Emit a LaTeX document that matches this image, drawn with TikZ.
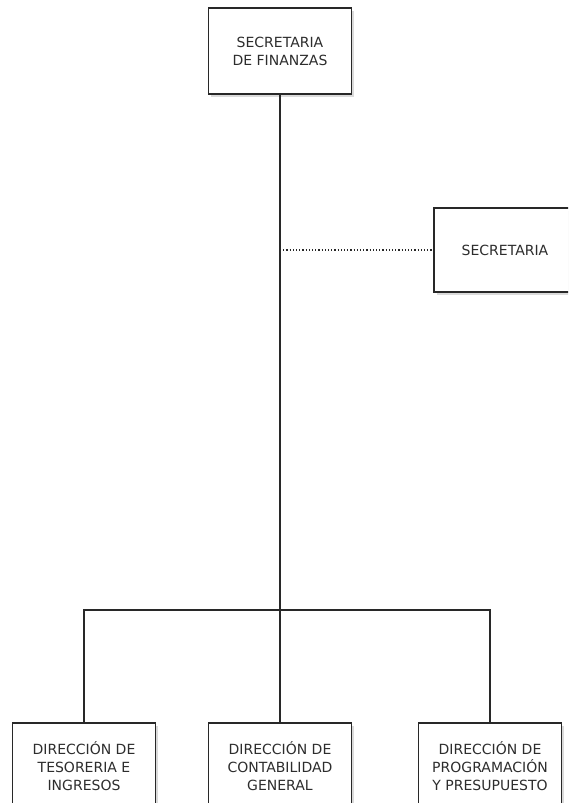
\documentclass[tikz,border=0pt]{standalone}
\usepackage{fontspec}
\setmainfont{DejaVu Sans}
\usetikzlibrary{shadows}
\definecolor{linecolor}{RGB}{40,40,40}
\definecolor{textcolor}{RGB}{45,45,45}
\definecolor{shadowcolor}{RGB}{150,150,150}

\tikzset{
  orgbox/.style={draw=linecolor, fill=white, line width=1.5pt, align=center,
    text=textcolor, font=\fontsize{14}{18}\selectfont,
    minimum width=143pt, minimum height=86pt, inner sep=0pt,
    drop shadow={shadow xshift=2.5pt, shadow yshift=-2.5pt, fill=shadowcolor, opacity=0.35}},
  orgline/.style={draw=linecolor, line width=1.5pt},
  staffline/.style={draw=linecolor, line width=1.2pt, dotted}
}

\begin{document}
\begin{tikzpicture}[x=1pt, y=-1pt]

% 1. CANVAS
\clip (0,0) rectangle (568,803);
\fill[white] (0,0) rectangle (568,803);

% 2. TOP BOX
\node[orgbox] (finanzas) at (280,51) {SECRETARIA\\DE FINANZAS};

% Staff unit (right)
\node[orgbox, minimum width=142pt, minimum height=84pt] (secretaria) at (505,250) {SECRETARIA};

% 3. DIRECTORATES (bottom row)
\node[orgbox] (tesoreria) at (84,766) {DIRECCIÓN DE\\TESORERIA E\\INGRESOS};
\node[orgbox] (contabilidad) at (280,766) {DIRECCIÓN DE\\CONTABILIDAD\\GENERAL};
\node[orgbox] (programacion) at (490,766) {DIRECCIÓN DE\\PROGRAMACIÓN\\Y PRESUPUESTO};

% 4. CONNECTORS
\coordinate (bar) at (280,610);
\coordinate (staff) at (280,250);
\draw[orgline] (finanzas.south) -- (bar);
\draw[orgline] (bar) -- (contabilidad.north);
\draw[orgline] (bar) -| (tesoreria.north);
\draw[orgline] (bar) -| (programacion.north);
\draw[staffline] (staff) -- (secretaria.west);

\end{tikzpicture}
\end{document}
